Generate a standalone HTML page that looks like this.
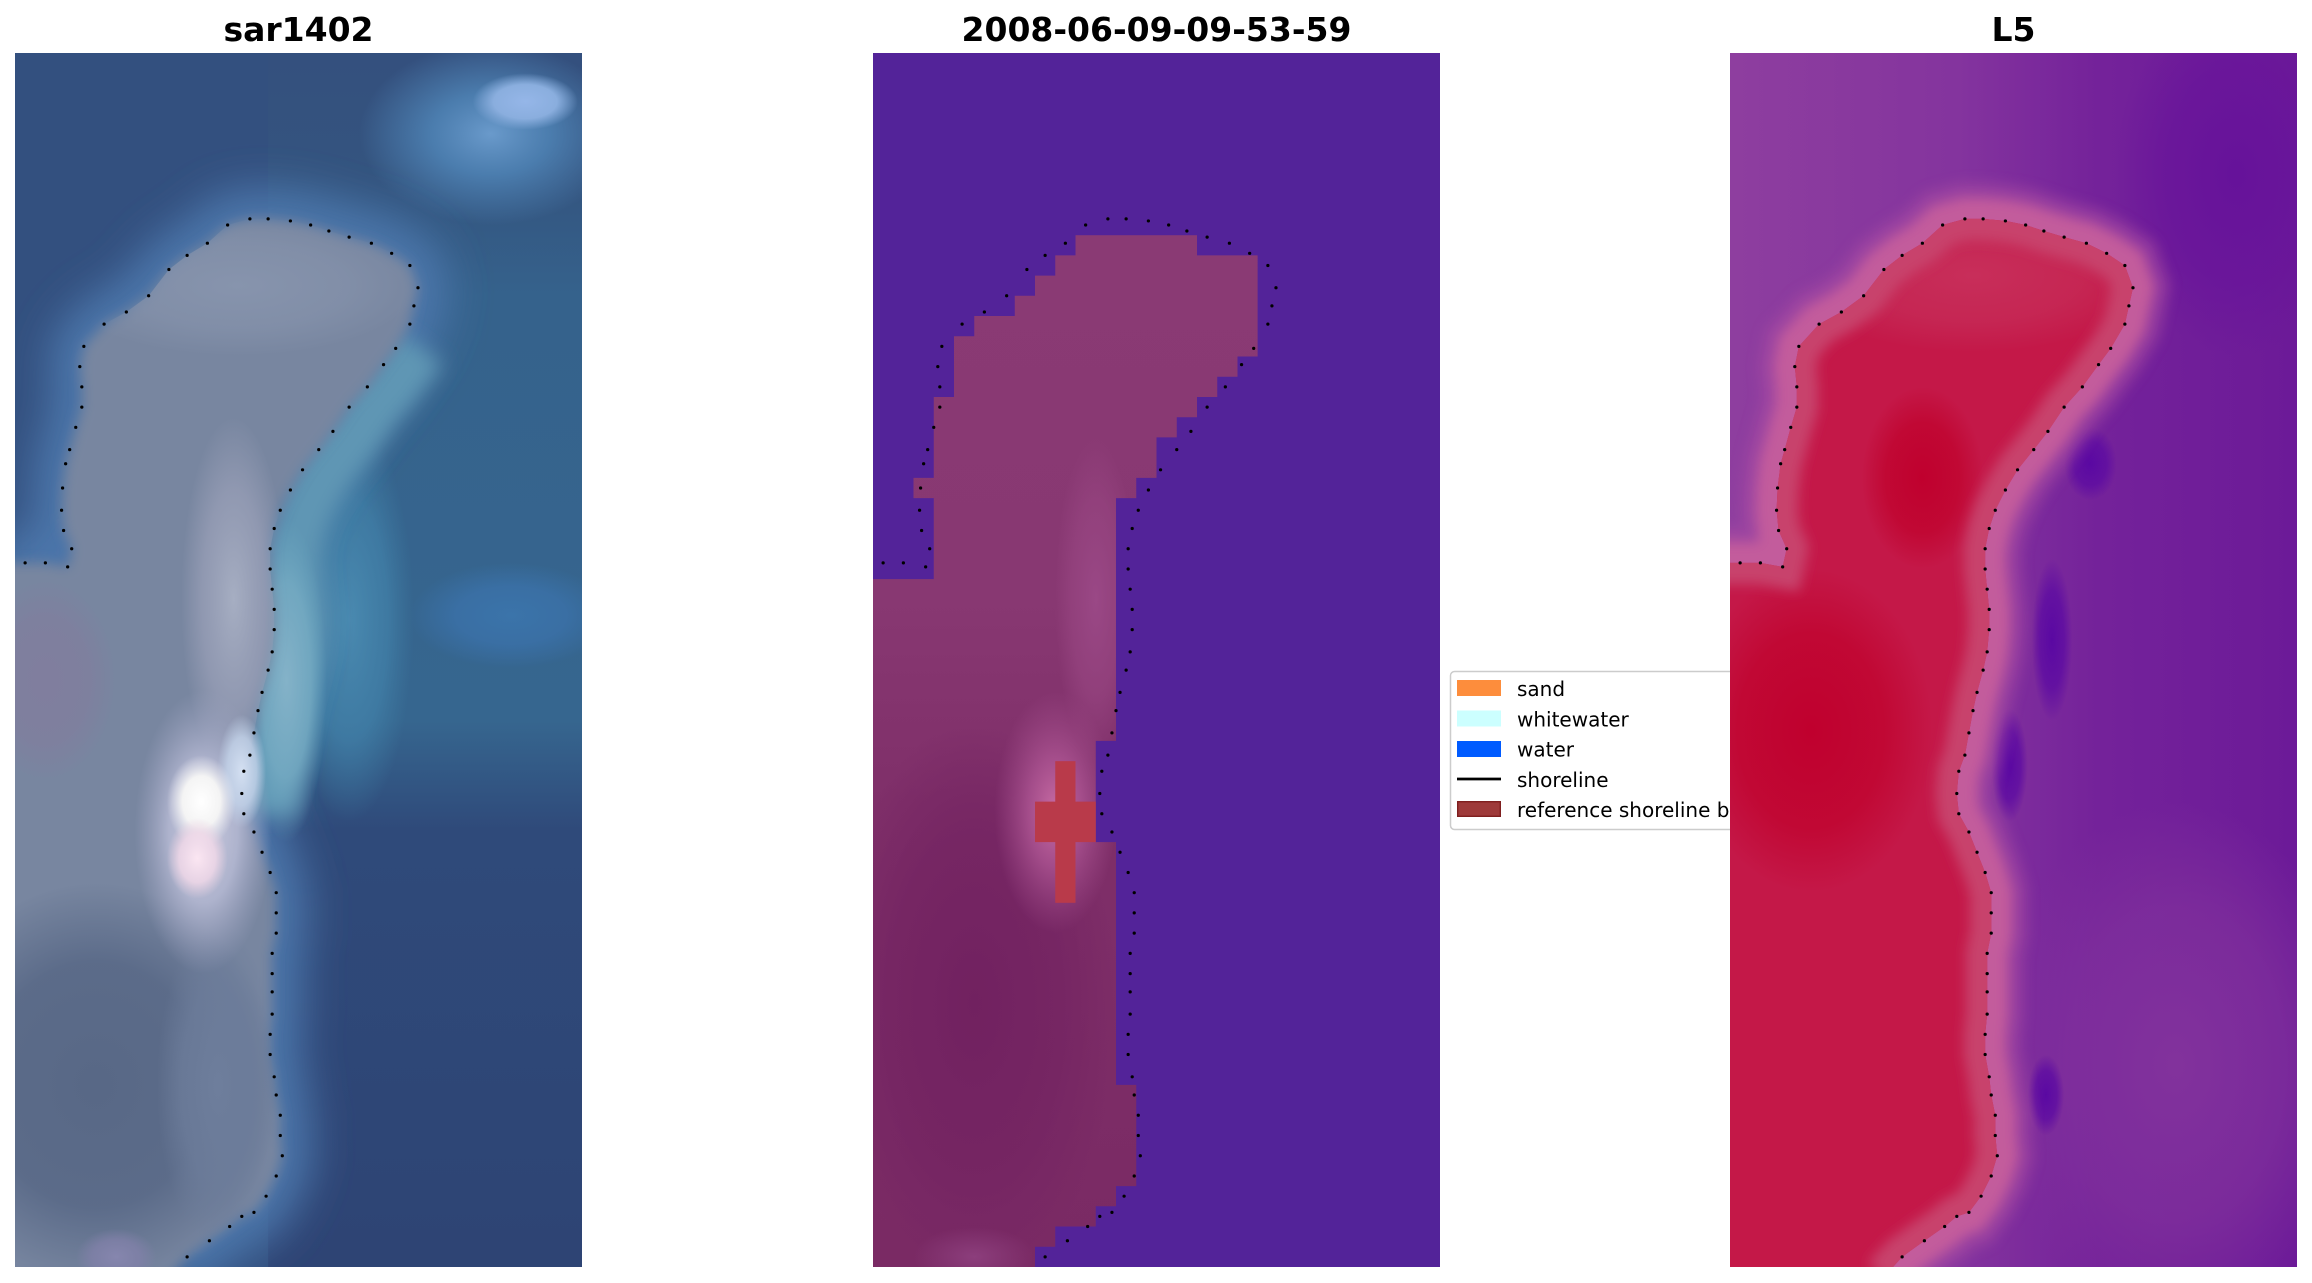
<!DOCTYPE html>
<html><head><meta charset="utf-8"><style>
html,body{margin:0;padding:0;background:#fff;}
svg{display:block;}
</style></head><body>
<svg width="2312" height="1283" viewBox="0 0 2312 1283" xmlns="http://www.w3.org/2000/svg">
<defs>
<filter id="fb03" x="-50%" y="-50%" width="200%" height="200%"><feGaussianBlur stdDeviation="0.3"/></filter>
<filter id="fb05" x="-50%" y="-50%" width="200%" height="200%"><feGaussianBlur stdDeviation="0.5"/></filter>
<filter id="fb1" x="-50%" y="-50%" width="200%" height="200%"><feGaussianBlur stdDeviation="1"/></filter>
<path id="shore" d="M-1,25.2 L0.5,25.2 1.5,25.2 2.6,25.4 2.8,24.5 2.4,23.6 2.3,22.6 2.35,21.5 2.5,20.3 2.7,19.6 3.0,18.5 3.3,17.5 3.3,16.5 3.2,15.5 3.4,14.5 4.4,13.4 5.5,12.8 6.6,12.0 7.6,10.7 8.5,10.0 9.5,9.4 10.5,8.5 11.6,8.2 12.5,8.2 13.6,8.3 14.6,8.5 15.5,8.8 16.5,9.1 17.6,9.4 18.6,9.9 19.5,10.5 19.9,11.6 19.7,12.5 19.5,13.4 18.8,14.6 18.2,15.4 17.4,16.5 16.5,17.5 15.7,18.7 15.0,19.6 14.2,20.6 13.6,21.6 13.1,22.6 12.8,23.5 12.6,24.5 12.6,25.5 12.7,26.5 12.8,27.5 12.8,28.5 12.7,29.6 12.5,30.5 12.2,31.6 12.0,32.5 11.8,33.6 11.6,34.7 11.3,35.5 11.2,36.6 11.3,37.6 11.8,38.5 12.2,39.5 12.6,40.5 12.9,41.5 12.9,42.5 12.9,43.5 12.7,44.5 12.7,45.5 12.7,46.4 12.7,47.5 12.6,48.5 12.6,49.5 12.8,50.6 12.9,51.5 13.1,52.5 13.1,53.5 13.2,54.5 12.9,55.5 12.4,56.5 11.8,57.3 11.2,57.5 10.6,58.0 9.6,58.7 8.5,59.5 7.6,60.5"/>
<path id="land" d="M-1,25.2 L0.5,25.2 1.5,25.2 2.6,25.4 2.8,24.5 2.4,23.6 2.3,22.6 2.35,21.5 2.5,20.3 2.7,19.6 3.0,18.5 3.3,17.5 3.3,16.5 3.2,15.5 3.4,14.5 4.4,13.4 5.5,12.8 6.6,12.0 7.6,10.7 8.5,10.0 9.5,9.4 10.5,8.5 11.6,8.2 12.5,8.2 13.6,8.3 14.6,8.5 15.5,8.8 16.5,9.1 17.6,9.4 18.6,9.9 19.5,10.5 19.9,11.6 19.7,12.5 19.5,13.4 18.8,14.6 18.2,15.4 17.4,16.5 16.5,17.5 15.7,18.7 15.0,19.6 14.2,20.6 13.6,21.6 13.1,22.6 12.8,23.5 12.6,24.5 12.6,25.5 12.7,26.5 12.8,27.5 12.8,28.5 12.7,29.6 12.5,30.5 12.2,31.6 12.0,32.5 11.8,33.6 11.6,34.7 11.3,35.5 11.2,36.6 11.3,37.6 11.8,38.5 12.2,39.5 12.6,40.5 12.9,41.5 12.9,42.5 12.9,43.5 12.7,44.5 12.7,45.5 12.7,46.4 12.7,47.5 12.6,48.5 12.6,49.5 12.8,50.6 12.9,51.5 13.1,52.5 13.1,53.5 13.2,54.5 12.9,55.5 12.4,56.5 11.8,57.3 11.2,57.5 10.6,58.0 9.6,58.7 8.5,59.5 7.6,60.5 -1,60.5 Z"/>
<clipPath id="landClip"><path d="M-1,25.2 L0.5,25.2 1.5,25.2 2.6,25.4 2.8,24.5 2.4,23.6 2.3,22.6 2.35,21.5 2.5,20.3 2.7,19.6 3.0,18.5 3.3,17.5 3.3,16.5 3.2,15.5 3.4,14.5 4.4,13.4 5.5,12.8 6.6,12.0 7.6,10.7 8.5,10.0 9.5,9.4 10.5,8.5 11.6,8.2 12.5,8.2 13.6,8.3 14.6,8.5 15.5,8.8 16.5,9.1 17.6,9.4 18.6,9.9 19.5,10.5 19.9,11.6 19.7,12.5 19.5,13.4 18.8,14.6 18.2,15.4 17.4,16.5 16.5,17.5 15.7,18.7 15.0,19.6 14.2,20.6 13.6,21.6 13.1,22.6 12.8,23.5 12.6,24.5 12.6,25.5 12.7,26.5 12.8,27.5 12.8,28.5 12.7,29.6 12.5,30.5 12.2,31.6 12.0,32.5 11.8,33.6 11.6,34.7 11.3,35.5 11.2,36.6 11.3,37.6 11.8,38.5 12.2,39.5 12.6,40.5 12.9,41.5 12.9,42.5 12.9,43.5 12.7,44.5 12.7,45.5 12.7,46.4 12.7,47.5 12.6,48.5 12.6,49.5 12.8,50.6 12.9,51.5 13.1,52.5 13.1,53.5 13.2,54.5 12.9,55.5 12.4,56.5 11.8,57.3 11.2,57.5 10.6,58.0 9.6,58.7 8.5,59.5 7.6,60.5 -1,60.5 Z"/></clipPath>
<clipPath id="land2Clip"><polygon points="10,9 16,9 16,10 19,10 19,15 18,15 18,16 17,16 17,17 16,17 16,18 15,18 15,19 14,19 14,21 13,21 13,22 12,22 12,34 11,34 11,39 12,39 12,51 13,51 13,56 12,56 12,57 11,57 11,58 9,58 9,59 8,59 8,60 0,60 0,26 3,26 3,22 2,22 2,21 3,21 3,17 4,17 4,14 5,14 5,13 7,13 7,12 8,12 8,11 9,11 9,10 10,10"/></clipPath>

<linearGradient id="g3" x1="0" y1="0" x2="1" y2="0">
<stop offset="0" stop-color="#8e3e9f"/><stop offset="0.4" stop-color="#84349e"/><stop offset="0.65" stop-color="#74229a"/><stop offset="1" stop-color="#6c1a98"/>
</linearGradient>
<linearGradient id="p1v" gradientUnits="userSpaceOnUse" x1="0" y1="0" x2="0" y2="60">
<stop offset="0" stop-color="#34507e"/><stop offset="0.1" stop-color="#34547f"/><stop offset="0.2" stop-color="#35628c"/><stop offset="0.55" stop-color="#36668f"/><stop offset="0.64" stop-color="#2f4a7a"/><stop offset="1" stop-color="#2e4474"/>
</linearGradient>
<linearGradient id="p2land" gradientUnits="userSpaceOnUse" x1="0" y1="9" x2="0" y2="60">
<stop offset="0" stop-color="#8a3a74"/><stop offset="0.35" stop-color="#883872"/><stop offset="0.55" stop-color="#7f2f69"/><stop offset="1" stop-color="#7a2a64"/>
</linearGradient>
<radialGradient id="rBluePatch"><stop offset="0" stop-color="#3b74aa"/><stop offset="0.55" stop-color="#3a70a6" stop-opacity="0.9"/><stop offset="1" stop-color="#3a70a6" stop-opacity="0"/></radialGradient>
<radialGradient id="rGlow"><stop offset="0" stop-color="#6a9acb"/><stop offset="0.45" stop-color="#4f84b6" stop-opacity="0.85"/><stop offset="1" stop-color="#4f84b6" stop-opacity="0"/></radialGradient>
<radialGradient id="rCore"><stop offset="0" stop-color="#95b6e8"/><stop offset="0.6" stop-color="#8aaede"/><stop offset="1" stop-color="#8aaede" stop-opacity="0"/></radialGradient>
<radialGradient id="rLowLand"><stop offset="0" stop-color="#586886"/><stop offset="0.6" stop-color="#5a6a88" stop-opacity="0.95"/><stop offset="1" stop-color="#5a6a88" stop-opacity="0"/></radialGradient>
<radialGradient id="rMidStrip"><stop offset="0" stop-color="#6e7e9c"/><stop offset="0.6" stop-color="#6c7c9a" stop-opacity="0.8"/><stop offset="1" stop-color="#6c7c9a" stop-opacity="0"/></radialGradient>
<radialGradient id="rLav"><stop offset="0" stop-color="#a6aec2"/><stop offset="0.6" stop-color="#9aa0b8" stop-opacity="0.7"/><stop offset="1" stop-color="#9aa0b8" stop-opacity="0"/></radialGradient>
<radialGradient id="rTopArc"><stop offset="0" stop-color="#8794ad"/><stop offset="0.6" stop-color="#8592ab" stop-opacity="0.7"/><stop offset="1" stop-color="#8592ab" stop-opacity="0"/></radialGradient>
<radialGradient id="rLeftLav"><stop offset="0" stop-color="#807e9e"/><stop offset="0.6" stop-color="#807e9e" stop-opacity="0.8"/><stop offset="1" stop-color="#807e9e" stop-opacity="0"/></radialGradient>
<radialGradient id="rBlobOuter"><stop offset="0" stop-color="#cacade"/><stop offset="0.5" stop-color="#b4b8d2" stop-opacity="0.9"/><stop offset="1" stop-color="#a2a6c4" stop-opacity="0"/></radialGradient>
<radialGradient id="rBlobCore"><stop offset="0" stop-color="#ffffff"/><stop offset="0.55" stop-color="#f4f4f4"/><stop offset="1" stop-color="#e8e8f0" stop-opacity="0"/></radialGradient>
<radialGradient id="rBlobPink"><stop offset="0" stop-color="#fbe6f2"/><stop offset="0.6" stop-color="#f0d8e8" stop-opacity="0.85"/><stop offset="1" stop-color="#e8d0e0" stop-opacity="0"/></radialGradient>
<radialGradient id="rBlobBlue"><stop offset="0" stop-color="#d4e0f2"/><stop offset="0.6" stop-color="#c4d4ea" stop-opacity="0.8"/><stop offset="1" stop-color="#c4d4ea" stop-opacity="0"/></radialGradient>
<radialGradient id="rCyan"><stop offset="0" stop-color="#84b2c8"/><stop offset="0.6" stop-color="#74aac2" stop-opacity="0.85"/><stop offset="1" stop-color="#68a4be" stop-opacity="0"/></radialGradient>
<radialGradient id="rTeal"><stop offset="0" stop-color="#4a8ab0"/><stop offset="0.6" stop-color="#4282aa" stop-opacity="0.7"/><stop offset="1" stop-color="#3e7ca2" stop-opacity="0"/></radialGradient>
<radialGradient id="rPurpSpot"><stop offset="0" stop-color="#8686ae"/><stop offset="0.6" stop-color="#8080a8" stop-opacity="0.8"/><stop offset="1" stop-color="#8080a8" stop-opacity="0"/></radialGradient>

<radialGradient id="r2Dark"><stop offset="0" stop-color="#712160"/><stop offset="0.6" stop-color="#742462" stop-opacity="0.8"/><stop offset="1" stop-color="#742462" stop-opacity="0"/></radialGradient>
<radialGradient id="r2Glow"><stop offset="0" stop-color="#c86ca4"/><stop offset="0.45" stop-color="#aa5290" stop-opacity="0.85"/><stop offset="1" stop-color="#a04c8a" stop-opacity="0"/></radialGradient>
<radialGradient id="r2Col"><stop offset="0" stop-color="#9a4886"/><stop offset="0.6" stop-color="#964480" stop-opacity="0.7"/><stop offset="1" stop-color="#964480" stop-opacity="0"/></radialGradient>
<radialGradient id="r2Bot"><stop offset="0" stop-color="#8c3e7c"/><stop offset="1" stop-color="#8c3e7c" stop-opacity="0"/></radialGradient>

<radialGradient id="r3TR"><stop offset="0" stop-color="#66129a"/><stop offset="0.6" stop-color="#68149a" stop-opacity="0.7"/><stop offset="1" stop-color="#68149a" stop-opacity="0"/></radialGradient>
<radialGradient id="r3LR"><stop offset="0" stop-color="#82329c"/><stop offset="0.6" stop-color="#80309c" stop-opacity="0.7"/><stop offset="1" stop-color="#80309c" stop-opacity="0"/></radialGradient>
<radialGradient id="r3Dark"><stop offset="0" stop-color="#5a08a2"/><stop offset="0.6" stop-color="#5e0ca2" stop-opacity="0.8"/><stop offset="1" stop-color="#5e0ca2" stop-opacity="0"/></radialGradient>
<radialGradient id="r3Top"><stop offset="0" stop-color="#c82e5a"/><stop offset="0.6" stop-color="#c62c58" stop-opacity="0.7"/><stop offset="1" stop-color="#c62c58" stop-opacity="0"/></radialGradient>
<radialGradient id="r3Deep"><stop offset="0" stop-color="#c0002e"/><stop offset="0.6" stop-color="#c0042f" stop-opacity="0.8"/><stop offset="1" stop-color="#c0042f" stop-opacity="0"/></radialGradient>

<g id="dots" fill="#000">
<circle cx="0.5" cy="25.2" r="0.08"/><circle cx="1.5" cy="25.2" r="0.08"/><circle cx="2.6" cy="25.4" r="0.08"/><circle cx="2.8" cy="24.5" r="0.08"/><circle cx="2.4" cy="23.6" r="0.08"/><circle cx="2.3" cy="22.6" r="0.08"/><circle cx="2.35" cy="21.5" r="0.08"/><circle cx="2.5" cy="20.3" r="0.08"/><circle cx="2.7" cy="19.6" r="0.08"/><circle cx="3.0" cy="18.5" r="0.08"/><circle cx="3.3" cy="17.5" r="0.08"/><circle cx="3.3" cy="16.5" r="0.08"/><circle cx="3.2" cy="15.5" r="0.08"/><circle cx="3.4" cy="14.5" r="0.08"/><circle cx="4.4" cy="13.4" r="0.08"/><circle cx="5.5" cy="12.8" r="0.08"/><circle cx="6.6" cy="12.0" r="0.08"/><circle cx="7.6" cy="10.7" r="0.08"/><circle cx="8.5" cy="10.0" r="0.08"/><circle cx="9.5" cy="9.4" r="0.08"/><circle cx="10.5" cy="8.5" r="0.08"/><circle cx="11.6" cy="8.2" r="0.08"/><circle cx="12.5" cy="8.2" r="0.08"/><circle cx="13.6" cy="8.3" r="0.08"/><circle cx="14.6" cy="8.5" r="0.08"/><circle cx="15.5" cy="8.8" r="0.08"/><circle cx="16.5" cy="9.1" r="0.08"/><circle cx="17.6" cy="9.4" r="0.08"/><circle cx="18.6" cy="9.9" r="0.08"/><circle cx="19.5" cy="10.5" r="0.08"/><circle cx="19.9" cy="11.6" r="0.08"/><circle cx="19.7" cy="12.5" r="0.08"/><circle cx="19.5" cy="13.4" r="0.08"/><circle cx="18.8" cy="14.6" r="0.08"/><circle cx="18.2" cy="15.4" r="0.08"/><circle cx="17.4" cy="16.5" r="0.08"/><circle cx="16.5" cy="17.5" r="0.08"/><circle cx="15.7" cy="18.7" r="0.08"/><circle cx="15.0" cy="19.6" r="0.08"/><circle cx="14.2" cy="20.6" r="0.08"/><circle cx="13.6" cy="21.6" r="0.08"/><circle cx="13.1" cy="22.6" r="0.08"/><circle cx="12.8" cy="23.5" r="0.08"/><circle cx="12.6" cy="24.5" r="0.08"/><circle cx="12.6" cy="25.5" r="0.08"/><circle cx="12.7" cy="26.5" r="0.08"/><circle cx="12.8" cy="27.5" r="0.08"/><circle cx="12.8" cy="28.5" r="0.08"/><circle cx="12.7" cy="29.6" r="0.08"/><circle cx="12.5" cy="30.5" r="0.08"/><circle cx="12.2" cy="31.6" r="0.08"/><circle cx="12.0" cy="32.5" r="0.08"/><circle cx="11.8" cy="33.6" r="0.08"/><circle cx="11.6" cy="34.7" r="0.08"/><circle cx="11.3" cy="35.5" r="0.08"/><circle cx="11.2" cy="36.6" r="0.08"/><circle cx="11.3" cy="37.6" r="0.08"/><circle cx="11.8" cy="38.5" r="0.08"/><circle cx="12.2" cy="39.5" r="0.08"/><circle cx="12.6" cy="40.5" r="0.08"/><circle cx="12.9" cy="41.5" r="0.08"/><circle cx="12.9" cy="42.5" r="0.08"/><circle cx="12.9" cy="43.5" r="0.08"/><circle cx="12.7" cy="44.5" r="0.08"/><circle cx="12.7" cy="45.5" r="0.08"/><circle cx="12.7" cy="46.4" r="0.08"/><circle cx="12.7" cy="47.5" r="0.08"/><circle cx="12.6" cy="48.5" r="0.08"/><circle cx="12.6" cy="49.5" r="0.08"/><circle cx="12.8" cy="50.6" r="0.08"/><circle cx="12.9" cy="51.5" r="0.08"/><circle cx="13.1" cy="52.5" r="0.08"/><circle cx="13.1" cy="53.5" r="0.08"/><circle cx="13.2" cy="54.5" r="0.08"/><circle cx="12.9" cy="55.5" r="0.08"/><circle cx="12.4" cy="56.5" r="0.08"/><circle cx="11.8" cy="57.3" r="0.08"/><circle cx="11.2" cy="57.5" r="0.08"/><circle cx="10.6" cy="58.0" r="0.08"/><circle cx="9.6" cy="58.7" r="0.08"/><circle cx="8.5" cy="59.5" r="0.08"/>
</g>
</defs>

<!-- Titles -->
<g font-family="'DejaVu Sans', 'Liberation Sans', sans-serif" font-weight="bold" font-size="33" fill="#000" text-anchor="middle">
<text x="298.5" y="41">sar1402</text>
<text x="1156.5" y="41">2008-06-09-09-53-59</text>
<text x="2013.5" y="41">L5</text>
</g>

<!-- Legend (under panel 3) -->
<g>
<rect x="1450.5" y="671.5" width="330" height="158" rx="4" ry="4" fill="#fff" stroke="#cccccc" stroke-width="1.5"/>
<rect x="1457" y="680" width="44" height="16" fill="#fd8d3c"/>
<rect x="1457" y="710.5" width="44" height="16" fill="#ccffff"/>
<rect x="1457" y="741" width="44" height="16" fill="#005bff"/>
<line x1="1457" y1="779" x2="1501" y2="779" stroke="#000" stroke-width="2.7"/>
<rect x="1457.7" y="801.7" width="42.6" height="14.6" fill="#9e3a3a" stroke="#7f1f1f" stroke-width="1.4"/>
<g font-family="'DejaVu Sans', 'Liberation Sans', sans-serif" font-size="20" fill="#000">
<text x="1517" y="696">sand</text>
<text x="1517" y="726.3">whitewater</text>
<text x="1517" y="756.6">water</text>
<text x="1517" y="786.9">shoreline</text>
<text x="1517" y="817.2">reference shoreline buffer</text>
</g>
</g>

<!-- Panel 1 -->
<svg x="15" y="53" width="567" height="1214" viewBox="0 0 28 60" preserveAspectRatio="none">
<rect x="0" y="0" width="28" height="60" fill="#33507f"/>
<rect x="12.5" y="0" width="16" height="60" fill="url(#p1v)"/>
<ellipse cx="16.5" cy="28" rx="3.2" ry="10" fill="url(#rTeal)"/>
<ellipse cx="24.5" cy="27.8" rx="5" ry="2.6" fill="url(#rBluePatch)"/>
<ellipse cx="23.5" cy="4" rx="6.5" ry="4.5" fill="url(#rGlow)"/>
<ellipse cx="25.2" cy="2.4" rx="2.6" ry="1.4" fill="url(#rCore)"/>
<use href="#shore" fill="none" stroke="#4b76aa" stroke-width="3" filter="url(#fb1)"/>
<path d="M20.1,14.6 L19.5,15.4 18.7,16.5 17.8,17.5 17.0,18.7 16.3,19.6 15.5,20.6 14.9,21.6 14.4,22.6 14.1,23.5 13.9,24.5 13.9,25.5 14.0,26.5 14.1,27.5 14.1,28.5 14.0,29.6 13.8,30.5 13.5,31.6 13.3,32.5 13.1,33.6 12.9,34.7 12.6,35.5 12.5,36.6 12.6,37.6" fill="none" stroke="#5f96b4" stroke-width="2.6" filter="url(#fb05)"/>
<ellipse cx="13.4" cy="31" rx="2" ry="8" fill="url(#rCyan)"/>
<use href="#land" fill="#7886a0" filter="url(#fb03)"/>
<g clip-path="url(#landClip)">
<ellipse cx="11" cy="11.5" rx="9" ry="3.5" fill="url(#rTopArc)"/>
<ellipse cx="4" cy="51" rx="9" ry="10" fill="url(#rLowLand)"/>
<ellipse cx="10" cy="51" rx="3" ry="8" fill="url(#rMidStrip)"/>
<ellipse cx="10.8" cy="27" rx="2.6" ry="9" fill="url(#rLav)"/>
<ellipse cx="1.5" cy="31" rx="3.5" ry="5" fill="url(#rLeftLav)"/>
<ellipse cx="5" cy="59.5" rx="2" ry="1.4" fill="url(#rPurpSpot)"/>
</g>
<ellipse cx="9.3" cy="38.5" rx="3.4" ry="7" fill="url(#rBlobOuter)"/>
<ellipse cx="11.2" cy="35.5" rx="1.2" ry="2.8" fill="url(#rBlobBlue)"/>
<ellipse cx="9.2" cy="37" rx="1.7" ry="2.3" fill="url(#rBlobCore)"/>
<ellipse cx="9" cy="39.8" rx="1.5" ry="2" fill="url(#rBlobPink)"/>
<use href="#dots"/>
</svg>

<!-- Panel 2 -->
<svg x="873" y="53" width="567" height="1214" viewBox="0 0 28 60" preserveAspectRatio="none">
<rect x="0" y="0" width="28" height="60" fill="#532399"/>
<g clip-path="url(#land2Clip)">
<rect x="0" y="0" width="28" height="60" fill="url(#p2land)"/>
<ellipse cx="5" cy="47" rx="7" ry="14" fill="url(#r2Dark)"/>
<ellipse cx="11" cy="27" rx="2" ry="8" fill="url(#r2Col)"/>
<ellipse cx="9" cy="37.5" rx="3" ry="6" fill="url(#r2Glow)"/>
<ellipse cx="5" cy="59.5" rx="3" ry="1.5" fill="url(#r2Bot)"/>
</g>
<rect x="9" y="35" width="1" height="7" fill="#b93a4a"/>
<rect x="8" y="37" width="3" height="2" fill="#b93a4a"/>
<use href="#dots"/>
</svg>

<!-- Panel 3 -->
<svg x="1730" y="53" width="567" height="1214" viewBox="0 0 28 60" preserveAspectRatio="none">
<rect x="0" y="0" width="28" height="60" fill="url(#g3)"/>
<ellipse cx="25" cy="6" rx="6" ry="9" fill="url(#r3TR)"/>
<ellipse cx="22" cy="50" rx="9" ry="13" fill="url(#r3LR)"/>
<ellipse cx="15.9" cy="29" rx="1" ry="4" fill="url(#r3Dark)"/>
<ellipse cx="13.8" cy="35.2" rx="0.9" ry="2.8" fill="url(#r3Dark)"/>
<ellipse cx="17.8" cy="20.3" rx="1.3" ry="1.8" fill="url(#r3Dark)"/>
<ellipse cx="15.6" cy="51.5" rx="0.9" ry="2" fill="url(#r3Dark)"/>
<use href="#shore" fill="none" stroke="#a84ca2" stroke-width="3.6" opacity="0.55" filter="url(#fb03)"/>
<use href="#shore" fill="none" stroke="#c35c9c" stroke-width="2.1" filter="url(#fb03)"/>
<use href="#land" fill="#c41848"/>
<g clip-path="url(#landClip)">
<ellipse cx="12" cy="11" rx="9" ry="3.8" fill="url(#r3Top)"/>
<ellipse cx="9.5" cy="21" rx="3" ry="4.5" fill="url(#r3Deep)"/>
<ellipse cx="4" cy="33.5" rx="6" ry="8" fill="url(#r3Deep)"/>
<use href="#shore" fill="none" stroke="#c8426c" stroke-width="2.1" filter="url(#fb03)"/>
</g>
<use href="#dots"/>
</svg>
</svg>
</body></html>
